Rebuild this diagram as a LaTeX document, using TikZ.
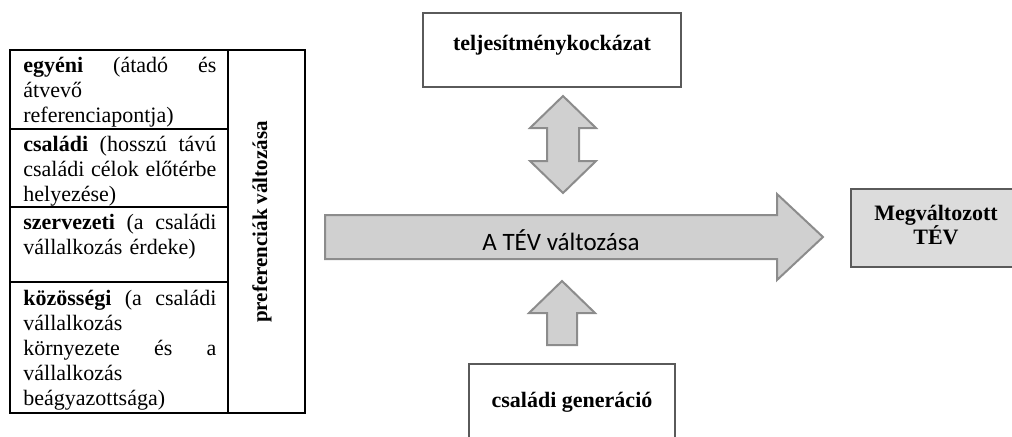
\documentclass[tikz,border=0pt]{standalone}
\usepackage{fontspec}
\setmainfont{Liberation Serif}
\newfontfamily\calibri{Carlito}
\usetikzlibrary{positioning}
\definecolor{arrowfill}{HTML}{D0D0D0}
\definecolor{arrowline}{HTML}{8C8C8C}
\definecolor{boxline}{HTML}{5A5A5A}
\definecolor{resultfill}{HTML}{DCDCDC}
\tikzset{
    grid/.style={draw=black, line width=0.8pt},
    celltext/.style={anchor=base west, inner sep=0pt, text width=96.5pt, align=left,
        font=\fontsize{11}{12.5}\selectfont},
    factor/.style={draw=boxline, line width=1pt, fill=white},
    result/.style={draw=boxline, line width=1pt, fill=resultfill},
    btext/.style={inner sep=0pt, align=center, font=\fontsize{11}{12}\selectfont\bfseries},
    blockarrow/.style={draw=arrowline, line width=1pt, fill=arrowfill, line join=miter},
}

\begin{document}
\begin{tikzpicture}[x=0.5pt,y=-0.5pt]
\useasboundingbox (0,0) rectangle (1012,436);
\clip (0,0) rectangle (1012,436);
% table of preferences
\draw[grid] (10,50) rectangle (305,413);
\draw[grid] (228,50) -- (228,413);
\foreach \y in {129,207,282} \draw[grid] (10,\y) -- (228,\y);
\node[celltext] (egyeni) at (23,72)
    {\textbf{egyéni}\hfill(átadó\hfill és\\átvevő\\referenciapontja)};
\node[celltext] (csaladi) at (23,151)
    {\textbf{családi}\hfill(hosszú\hfill távú\\családi\hfill célok\hfill előtérbe\\helyezése)};
\node[celltext] (szerv) at (23,229)
    {\textbf{szervezeti}\hfill(a\hfill családi\\vállalkozás érdeke)};
\node[celltext] (kozos) at (23,305)
    {\textbf{közösségi}\hfill(a\hfill családi\\vállalkozás\\környezete\hfill és\hfill a\\vállalkozás\\beágyazottsága)};
\node[btext, rotate=90, font=\fontsize{10.5}{12}\selectfont\bfseries] (pref) at (262,222) {preferenciák változása};
% boxes
\node[factor, minimum width=129pt, minimum height=37pt] (risk) at (552,50) {};
\node[btext] (risklabel) at (552,45) {teljesítménykockázat};
\node[factor, minimum width=103pt, minimum height=40pt, anchor=north] (gen) at (572,363) {};
\node[btext] (genlabel) at (572,402) {családi generáció};
\node[result, minimum width=85pt, minimum height=39pt] (tev) at (936,228) {};
\node[btext] (tevlabel) at (936,225) {Megváltozott\\TÉV};
% block arrows
\draw[blockarrow] (325,215) -- (777,215) -- (777,194) -- (823,237) -- (777,280)
    -- (777,259) -- (325,259) -- cycle;
\node[inner sep=0pt, font=\calibri\fontsize{12.5}{14}\selectfont] (change) at (561,240) {A TÉV változása};
\draw[blockarrow] (563,96) -- (596,128) -- (579,128) -- (579,161) -- (596,161) -- (563,193)
    -- (530,161) -- (547,161) -- (547,128) -- (530,128) -- cycle;
\draw[blockarrow] (562,281) -- (595,313) -- (577,313) -- (577,345) -- (547,345)
    -- (547,313) -- (529,313) -- cycle;
\end{tikzpicture}
\end{document}
